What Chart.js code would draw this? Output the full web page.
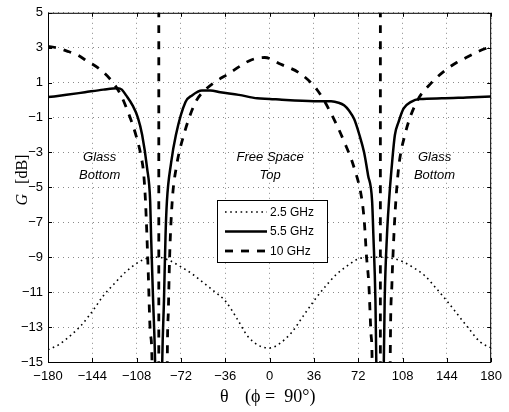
<!DOCTYPE html>
<html>
<head>
<meta charset="utf-8">
<script src="https://cdn.jsdelivr.net/npm/chart.js@4"></script>
<style>
  html, body { margin: 0; padding: 0; background: #fff; }
  canvas { display: block; }
</style>
</head>
<body>
<canvas id="gainChart" width="509" height="412"></canvas>
<script>
// axis ticks
const thetaTicks = [-180, -144, -108, -72, -36, 0, 36, 72, 108, 144, 180];
const gainTicks = [5, 3, 1, -1, -3, -5, -7, -9, -11, -13, -15];

// 2.5 GHz (dotted)
const theta25 = [-180, -171, -162, -153, -144, -135, -126, -117, -108, -99, -90, -81, -72, -63, -54, -45, -36, -27, -18, -9,
  0, 9, 18, 27, 36, 45, 54, 63, 72, 81, 90, 99, 108, 117, 126, 135, 144, 153, 162, 171, 180];
const gain25 = [-14.3, -14.0, -13.5, -12.9, -12.1, -11.2, -10.5, -9.85, -9.35, -9.05, -9.0, -9.2, -9.55, -9.95, -10.45, -10.95, -11.5, -12.45, -13.5, -14.05,
  -14.2, -13.9, -13.3, -12.4, -11.5, -10.7, -10.0, -9.5, -9.1, -9.0, -9.0, -9.05, -9.25, -9.6, -10.05, -10.75, -11.5, -12.3, -13.1, -13.85, -14.2];

// 5.5 GHz (solid)
const theta55 = [-180, -165, -150, -135, -123.5, -120, -116.5, -111.3, -107, -103.5, -99.5, -97, -96.3, -94.6, -93, -92,
  -88, -87.2, -85.8, -84.5, -83.4, -80, -76.1, -68.3, -63, -55, -48, -40, -25, -10, 0, 10, 36, 50, 56, 60.5, 64.5,
  68.8, 73, 76.8, 80, 83.3, 84.3, 86, 86.7, 87.5, 92, 92.8, 93.5, 95.4, 97, 99, 101.8, 104.8, 108.8, 115, 122, 140, 160, 180];
const gain55 = [0.17, 0.3, 0.45, 0.6, 0.68, 0.6, 0.27, -0.3, -1.0, -2.0, -3.9, -5.8, -7.7, -11.5, -15, -20,
  -20, -15, -11.5, -7.7, -5.8, -3.6, -2.0, -0.11, 0.27, 0.55, 0.55, 0.45, 0.3, 0.1, 0.07, 0.02, -0.06, -0.07, -0.15, -0.3, -0.6,
  -1.1, -2.0, -3.0, -4.3, -5.8, -7.7, -11.5, -15, -20, -20, -15, -11.5, -7.7, -5.8, -4.0, -2.0, -1.25, -0.49, -0.1, 0.06, 0.1, 0.15, 0.2];

// 10 GHz (dashed), null = break in the line
const theta10 = [-180, -172, -165, -156, -148.8, -138.1, -127.4, -120.7, -114, -108.6, -104.6, -102.3, -100.8, -98.7, -96.8, -95.5, -95.2,
  -93, -90, -90, -87, -83.4, -83.1, -82.2, -81.2, -79.1, -75.9, -69.7, -60, -52, -43, -33.5, -25, -15, -3.9,
  9.2, 25.3, 39, 49.5, 60.7, 68.8, 75.2, 77, 78.8, 80.6, 82.5, 83.3, 83.6,
  87, 90, 90, 93, 97.7, 98, 99.4, 100.5, 102, 104.8, 109.9, 119.5, 131.6, 143.7, 152, 159.8, 170, 180];
const gain10 = [3.07, 2.98, 2.82, 2.58, 2.26, 1.78, 1.02, 0.27, -0.87, -2.0, -3.14, -4.2, -5.8, -9.6, -13.4, -15, -20,
  null, -20, 6, null, -20, -15, -12, -9, -5.8, -3.9, -2.0, -0.1, 0.6, 1.1, 1.5, 1.9, 2.3, 2.44,
  2.05, 1.5, 0.55, -0.7, -2.4, -3.9, -5.8, -7, -9, -10.5, -13.5, -15, -20,
  null, -20, 6, null, -20, -15, -10.5, -8.5, -6.4, -3.9, -2.0, -0.1, 1.0, 1.76, 2.15, 2.44, 2.8, 3.07];

const sans = '"Liberation Sans", Arial, Helvetica, sans-serif';
const serif = '"Liberation Serif", "Times New Roman", serif';

function toPoints(xs, ys) {
  return xs.map((x, i) => ({ x: x, y: ys[i] }));
}

function minusSign(v) {
  return String(v).replace('-', '\u2212');
}

// black frame with inward tick marks, like the original
const axisBox = {
  id: 'axisBox',
  afterDatasetsDraw(chart) {
    const { ctx, chartArea: a, scales } = chart;
    ctx.save();
    ctx.strokeStyle = '#000';
    ctx.lineWidth = 1;
    ctx.setLineDash([]);
    ctx.strokeRect(a.left + 0.5, a.top + 0.5, a.width - 1, a.height);
    ctx.beginPath();
    thetaTicks.forEach(v => {
      const px = Math.round(scales.x.getPixelForValue(v)) + 0.5;
      ctx.moveTo(px, a.bottom); ctx.lineTo(px, a.bottom - 4);
      ctx.moveTo(px, a.top); ctx.lineTo(px, a.top + 4);
    });
    gainTicks.forEach(v => {
      const py = Math.round(scales.y.getPixelForValue(v)) + 0.5;
      ctx.moveTo(a.left, py); ctx.lineTo(a.left + 4, py);
      ctx.moveTo(a.right, py); ctx.lineTo(a.right - 4, py);
    });
    ctx.stroke();
    ctx.restore();
  }
};

// region names inside the plot
const regionText = {
  id: 'regionText',
  afterDatasetsDraw(chart) {
    const { ctx, scales } = chart;
    const spots = [[-138, ['Glass', 'Bottom']], [0.5, ['Free Space', 'Top']], [134, ['Glass', 'Bottom']]];
    ctx.save();
    ctx.fillStyle = '#000';
    ctx.font = 'italic 13px ' + sans;
    ctx.textAlign = 'center';
    ctx.textBaseline = 'middle';
    const yMid = scales.y.getPixelForValue(-3.8);
    spots.forEach(([t, lines]) => {
      const px = scales.x.getPixelForValue(t);
      ctx.fillText(lines[0], px, yMid - 9);
      ctx.fillText(lines[1], px, yMid + 9);
    });
    ctx.restore();
  }
};

// boxed legend in the middle of the plot
const boxLegend = {
  id: 'boxLegend',
  afterDraw(chart) {
    const { ctx } = chart;
    const left = 217, top = 200, w = 110, h = 62;
    ctx.save();
    ctx.fillStyle = '#fff';
    ctx.fillRect(left, top, w, h);
    ctx.strokeStyle = '#000';
    ctx.lineWidth = 1;
    ctx.setLineDash([]);
    ctx.strokeRect(left + 0.5, top + 0.5, w, h);
    ctx.font = '12px ' + sans;
    ctx.textBaseline = 'middle';
    ctx.textAlign = 'left';
    chart.data.datasets.forEach((ds, i) => {
      const rowY = top + 12 + i * 19.5;
      ctx.beginPath();
      ctx.strokeStyle = ds.borderColor;
      ctx.lineWidth = ds.borderWidth;
      ctx.setLineDash(ds.borderDash || []);
      ctx.moveTo(left + 8, rowY);
      ctx.lineTo(left + 50, rowY);
      ctx.stroke();
      ctx.setLineDash([]);
      ctx.fillStyle = '#000';
      ctx.fillText(ds.label, left + 53, rowY + 0.5);
    });
    ctx.restore();
  }
};

// axis titles: italic G on the y axis, theta/phi on the x axis
const axisTitles = {
  id: 'axisTitles',
  afterDraw(chart) {
    const { ctx, chartArea: a } = chart;
    const cx = (a.left + a.right) / 2;
    ctx.save();
    ctx.fillStyle = '#000';
    ctx.textBaseline = 'alphabetic';
    ctx.textAlign = 'left';
    ctx.font = '18px ' + serif;
    ctx.fillText('\u03b8', cx - 49.5, 402);
    ctx.fillText('(\u03d5 =  90\u00b0)', cx - 24.5, 402);

    ctx.translate(27, 180);
    ctx.rotate(-Math.PI / 2);
    ctx.font = 'italic 16px ' + serif;
    const gW = ctx.measureText('G').width;
    ctx.font = '16px ' + serif;
    const rW = ctx.measureText('[dB]').width;
    const gap = 10;
    const start = -(gW + gap + rW) / 2;
    ctx.font = 'italic 16px ' + serif;
    ctx.fillText('G', start, 0);
    ctx.font = '16px ' + serif;
    ctx.fillText('[dB]', start + gW + gap, 0);
    ctx.restore();
  }
};

const ctx = document.getElementById('gainChart').getContext('2d');

new Chart(ctx, {
  type: 'line',
  data: {
    datasets: [
      {
        label: '2.5 GHz',
        data: toPoints(theta25, gain25),
        borderColor: '#000',
        borderWidth: 1.6,
        borderDash: [1.6, 3.6],
        pointRadius: 0,
        cubicInterpolationMode: 'monotone',
        clip: 0,
        order: 3
      },
      {
        label: '5.5 GHz',
        data: toPoints(theta55, gain55),
        borderColor: '#000',
        borderWidth: 2.5,
        pointRadius: 0,
        cubicInterpolationMode: 'monotone',
        clip: 0,
        order: 2
      },
      {
        label: '10 GHz',
        data: toPoints(theta10, gain10),
        borderColor: '#000',
        borderWidth: 2.8,
        borderDash: [8, 8],
        pointRadius: 0,
        cubicInterpolationMode: 'monotone',
        clip: 0,
        order: 1
      }
    ]
  },
  options: {
    responsive: false,
    animation: false,
    layout: { padding: { top: 10, right: 14, left: 0, bottom: 0 } },
    plugins: {
      legend: { display: false },
      tooltip: { enabled: false }
    },
    scales: {
      x: {
        type: 'linear',
        min: -180,
        max: 180,
        afterBuildTicks: s => { s.ticks = thetaTicks.map(v => ({ value: v })); },
        afterFit: s => { s.height = 50; },
        ticks: {
          callback: v => minusSign(v),
          color: '#000',
          font: { family: sans, size: 13 },
          padding: 7,
          maxRotation: 0,
          autoSkip: false
        },
        grid: { color: '#8a8a8a', lineWidth: 1, drawTicks: false },
        border: { display: false, dash: [1, 4] }
      },
      y: {
        type: 'linear',
        min: -15,
        max: 5,
        afterBuildTicks: s => { s.ticks = gainTicks.map(v => ({ value: v })); },
        afterFit: s => { s.width = 48; },
        ticks: {
          callback: v => minusSign(v),
          color: '#000',
          font: { family: sans, size: 13 },
          padding: 5,
          autoSkip: false
        },
        grid: { color: '#8a8a8a', lineWidth: 1, drawTicks: false },
        border: { display: false, dash: [1, 4] }
      }
    }
  },
  plugins: [axisBox, regionText, boxLegend, axisTitles]
});
</script>
</body>
</html>
